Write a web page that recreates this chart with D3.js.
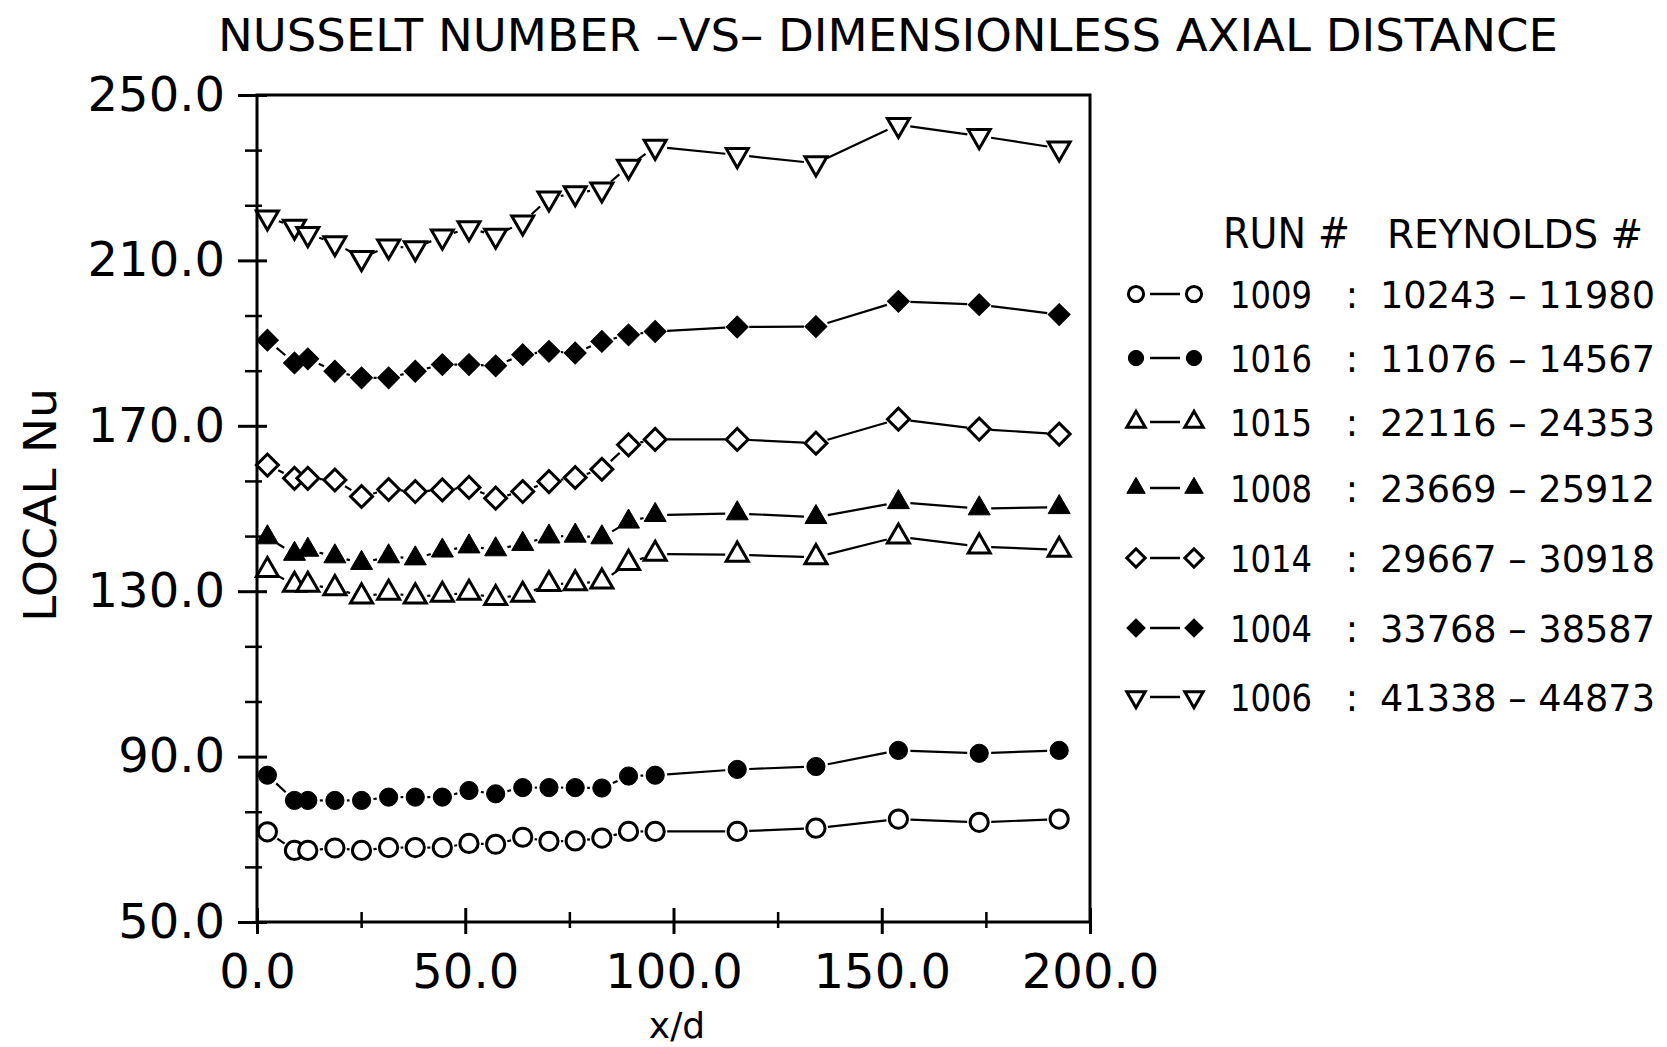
<!DOCTYPE html>
<html>
<head>
<meta charset="utf-8">
<script src="https://cdn.jsdelivr.net/npm/d3@7"></script>
<style>
  body { margin: 0; background: #fff; }
  text { font-family: "DejaVu Sans", sans-serif; fill: #000; }
</style>
</head>
<body>
<script>
// x/d stations, shared by all runs
var xd = [2.5, 9.0, 12.2, 18.7, 25.1, 31.6, 38.0, 44.5, 50.9, 57.3, 63.8,
  70.1, 76.4, 82.8, 89.2, 95.6, 115.3, 134.2, 154.0, 173.4, 192.6];

// Local Nu per run
var nu1009 = [71.8, 67.3, 67.3, 67.9, 67.3, 68.0, 68.0, 68.0, 69.0, 68.8, 70.5,
  69.5, 69.6, 70.3, 71.9, 71.9, 71.9, 72.7, 74.9, 74.1, 74.9];
var nu1016 = [85.5, 79.4, 79.4, 79.4, 79.4, 80.2, 80.2, 80.2, 81.8, 81.0, 82.5,
  82.5, 82.5, 82.4, 85.3, 85.5, 86.9, 87.6, 91.5, 90.8, 91.5];
var nu1015 = [135.1, 131.5, 131.5, 130.7, 128.7, 129.6, 128.7, 129.1, 129.6, 128.3, 129.1,
  131.7, 131.9, 132.3, 136.8, 139.0, 138.8, 138.2, 143.2, 140.8, 140.0];
var nu1008 = [143.0, 139.0, 140.0, 138.4, 136.8, 138.4, 137.9, 139.8, 140.8, 140.1, 141.4,
  143.2, 143.4, 143.0, 146.8, 148.4, 148.8, 147.9, 151.5, 150.0, 150.3];
var nu1014 = [160.5, 157.3, 157.3, 156.9, 152.9, 154.6, 154.1, 154.5, 155.1, 152.5, 154.1,
  156.5, 157.5, 159.5, 165.4, 166.7, 166.7, 165.8, 171.6, 169.2, 168.0];
var nu1004 = [190.7, 185.2, 186.2, 183.2, 181.6, 181.6, 183.2, 184.8, 184.8, 184.5, 187.2,
  188.0, 187.6, 190.4, 192.0, 192.8, 193.9, 194.0, 200.1, 199.3, 196.9];
var nu1006 = [220.4, 218.2, 216.4, 214.2, 210.6, 213.4, 213.0, 215.8, 217.8, 216.0, 219.2,
  225.0, 226.3, 227.2, 232.7, 237.5, 235.5, 233.5, 242.8, 240.1, 237.1];

// legend
var runs = ['1009', '1016', '1015', '1008', '1014', '1004', '1006'];
var reynolds = ['10243 \u2013 11980', '11076 \u2013 14567', '22116 \u2013 24353',
  '23669 \u2013 25912', '29667 \u2013 30918', '33768 \u2013 38587', '41338 \u2013 44873'];
var markers = ['circleOpen', 'circleFilled', 'triOpen', 'triFilled',
  'diamondOpen', 'diamondFilled', 'triDownOpen'];
var series = [nu1009, nu1016, nu1015, nu1008, nu1014, nu1004, nu1006];

// ticks
var yMajor = [50, 90, 130, 170, 210, 250];
var yMinor = [63.33, 76.67, 103.33, 116.67, 143.33, 156.67, 183.33, 196.67, 223.33, 236.67];
var xMajor = [0, 50, 100, 150, 200];
var xMinor = [25, 75, 125, 175];

var width = 1667,
  height = 1047;

var svg = d3.select('body')
  .append('svg')
  .attr('width', width)
  .attr('height', height);

var x = d3.scaleLinear().domain([0, 200]).range([257, 1090]);
var y = d3.scaleLinear().domain([50, 250]).range([922, 95]);

// title
svg.append('text')
  .attr('x', 218)
  .attr('y', 51)
  .attr('font-size', 44)
  .attr('textLength', 1340)
  .attr('lengthAdjust', 'spacingAndGlyphs')
  .text('NUSSELT NUMBER  \u2013VS\u2013  DIMENSIONLESS AXIAL DISTANCE');

// frame
svg.append('rect')
  .attr('x', x(0))
  .attr('y', y(250))
  .attr('width', x(200) - x(0))
  .attr('height', y(50) - y(250))
  .attr('fill', 'none')
  .attr('stroke', '#000')
  .attr('stroke-width', 3);

function styleAxis(g, w) {
  g.select('.domain').remove();
  g.selectAll('.tick line').attr('stroke', '#000').attr('stroke-width', w);
  g.selectAll('.tick text').attr('font-size', 48).attr('fill', '#000')
    .attr('font-family', '"DejaVu Sans", sans-serif');
}

// y axis, ticks cross the axis line
svg.append('g').attr('transform', 'translate(' + x(0) + ',0)')
  .call(d3.axisLeft(y).tickValues(yMajor).tickSize(19).tickPadding(13).tickFormat(d3.format('.1f')))
  .call(styleAxis, 3);
svg.append('g').attr('transform', 'translate(' + x(0) + ',0)')
  .call(d3.axisRight(y).tickValues(yMajor).tickSize(10).tickFormat(''))
  .call(styleAxis, 3);
svg.append('g').attr('transform', 'translate(' + x(0) + ',0)')
  .call(d3.axisLeft(y).tickValues(yMinor).tickSize(12).tickFormat(''))
  .call(styleAxis, 2.5);
svg.append('g').attr('transform', 'translate(' + x(0) + ',0)')
  .call(d3.axisRight(y).tickValues(yMinor).tickSize(5).tickFormat(''))
  .call(styleAxis, 2.5);

// x axis
svg.append('g').attr('transform', 'translate(0,' + y(50) + ')')
  .call(d3.axisBottom(x).tickValues(xMajor).tickSize(12).tickPadding(20).tickFormat(d3.format('.1f')))
  .call(styleAxis, 3);
svg.append('g').attr('transform', 'translate(0,' + y(50) + ')')
  .call(d3.axisTop(x).tickValues(xMajor).tickSize(14).tickFormat(''))
  .call(styleAxis, 3);
svg.append('g').attr('transform', 'translate(0,' + y(50) + ')')
  .call(d3.axisBottom(x).tickValues(xMinor).tickSize(6).tickFormat(''))
  .call(styleAxis, 2.5);
svg.append('g').attr('transform', 'translate(0,' + y(50) + ')')
  .call(d3.axisTop(x).tickValues(xMinor).tickSize(10).tickFormat(''))
  .call(styleAxis, 2.5);

// axis titles
svg.append('text')
  .attr('x', 677)
  .attr('y', 1038)
  .attr('font-size', 36)
  .attr('text-anchor', 'middle')
  .text('x/d');

svg.append('text')
  .attr('transform', 'translate(56,622) rotate(-90)')
  .attr('font-size', 44)
  .attr('textLength', 234)
  .attr('lengthAdjust', 'spacingAndGlyphs')
  .text('LOCAL  Nu');

// marker drawing
function drawMarker(g, type, cx, cy, k) {
  var path, rot = 0;
  if (type.indexOf('circle') == 0) {
    path = d3.symbol().type(d3.symbolCircle).size(260 * k)();
  } else if (type.indexOf('diamond') == 0) {
    path = d3.symbol().type(d3.symbolSquare).size(240 * k)();
    rot = 45;
  } else {
    path = d3.symbol().type(d3.symbolTriangle).size(210 * k)();
    if (type == 'triDownOpen') rot = 180;
  }
  var filled = type.indexOf('Filled') > 0;
  g.append('path')
    .attr('d', path)
    .attr('transform', 'translate(' + cx + ',' + cy + ') rotate(' + rot + ')')
    .attr('fill', filled ? '#000' : '#fff')
    .attr('stroke', '#000')
    .attr('stroke-width', filled ? 1 : 3);
}

// lines drawn between markers, with a gap round each marker
var gap = 12;
var plot = svg.append('g');
series.forEach(function(vals, si) {
  for (var i = 1; i < vals.length; i++) {
    var x1 = x(xd[i - 1]), y1 = y(vals[i - 1]);
    var x2 = x(xd[i]), y2 = y(vals[i]);
    var L = Math.sqrt((x2 - x1) * (x2 - x1) + (y2 - y1) * (y2 - y1));
    if (L <= 2 * gap) continue;
    var ux = (x2 - x1) / L, uy = (y2 - y1) / L;
    plot.append('line')
      .attr('x1', x1 + ux * gap).attr('y1', y1 + uy * gap)
      .attr('x2', x2 - ux * gap).attr('y2', y2 - uy * gap)
      .attr('stroke', '#000')
      .attr('stroke-width', 2.2);
  }
  vals.forEach(function(v, i) {
    drawMarker(plot, markers[si], x(xd[i]), y(v), 1);
  });
});

// legend
var legend = svg.append('g');
legend.append('text').attr('x', 1223).attr('y', 248).attr('font-size', 42)
  .attr('textLength', 127).attr('lengthAdjust', 'spacingAndGlyphs').text('RUN #');
legend.append('text').attr('x', 1387).attr('y', 248).attr('font-size', 39)
  .attr('textLength', 256).attr('lengthAdjust', 'spacingAndGlyphs').text('REYNOLDS #');

var rowY = [294, 358, 422, 488, 558, 628, 697];
runs.forEach(function(r, i) {
  var cy = rowY[i];
  legend.append('line')
    .attr('x1', 1150).attr('x2', 1180)
    .attr('y1', cy).attr('y2', cy)
    .attr('stroke', '#000').attr('stroke-width', 2.5);
  drawMarker(legend, markers[i], 1136, cy, 0.7);
  drawMarker(legend, markers[i], 1194, cy, 0.7);
  legend.append('text').attr('x', 1230).attr('y', cy + 14).attr('font-size', 38)
    .attr('textLength', 82).attr('lengthAdjust', 'spacingAndGlyphs').text(r);
  legend.append('text').attr('x', 1352).attr('y', cy + 14).attr('font-size', 38)
    .attr('text-anchor', 'middle').text(':');
  legend.append('text').attr('x', 1380).attr('y', cy + 14).attr('font-size', 37)
    .attr('textLength', 275).attr('lengthAdjust', 'spacingAndGlyphs').text(reynolds[i]);
});
</script>
</body>
</html>
